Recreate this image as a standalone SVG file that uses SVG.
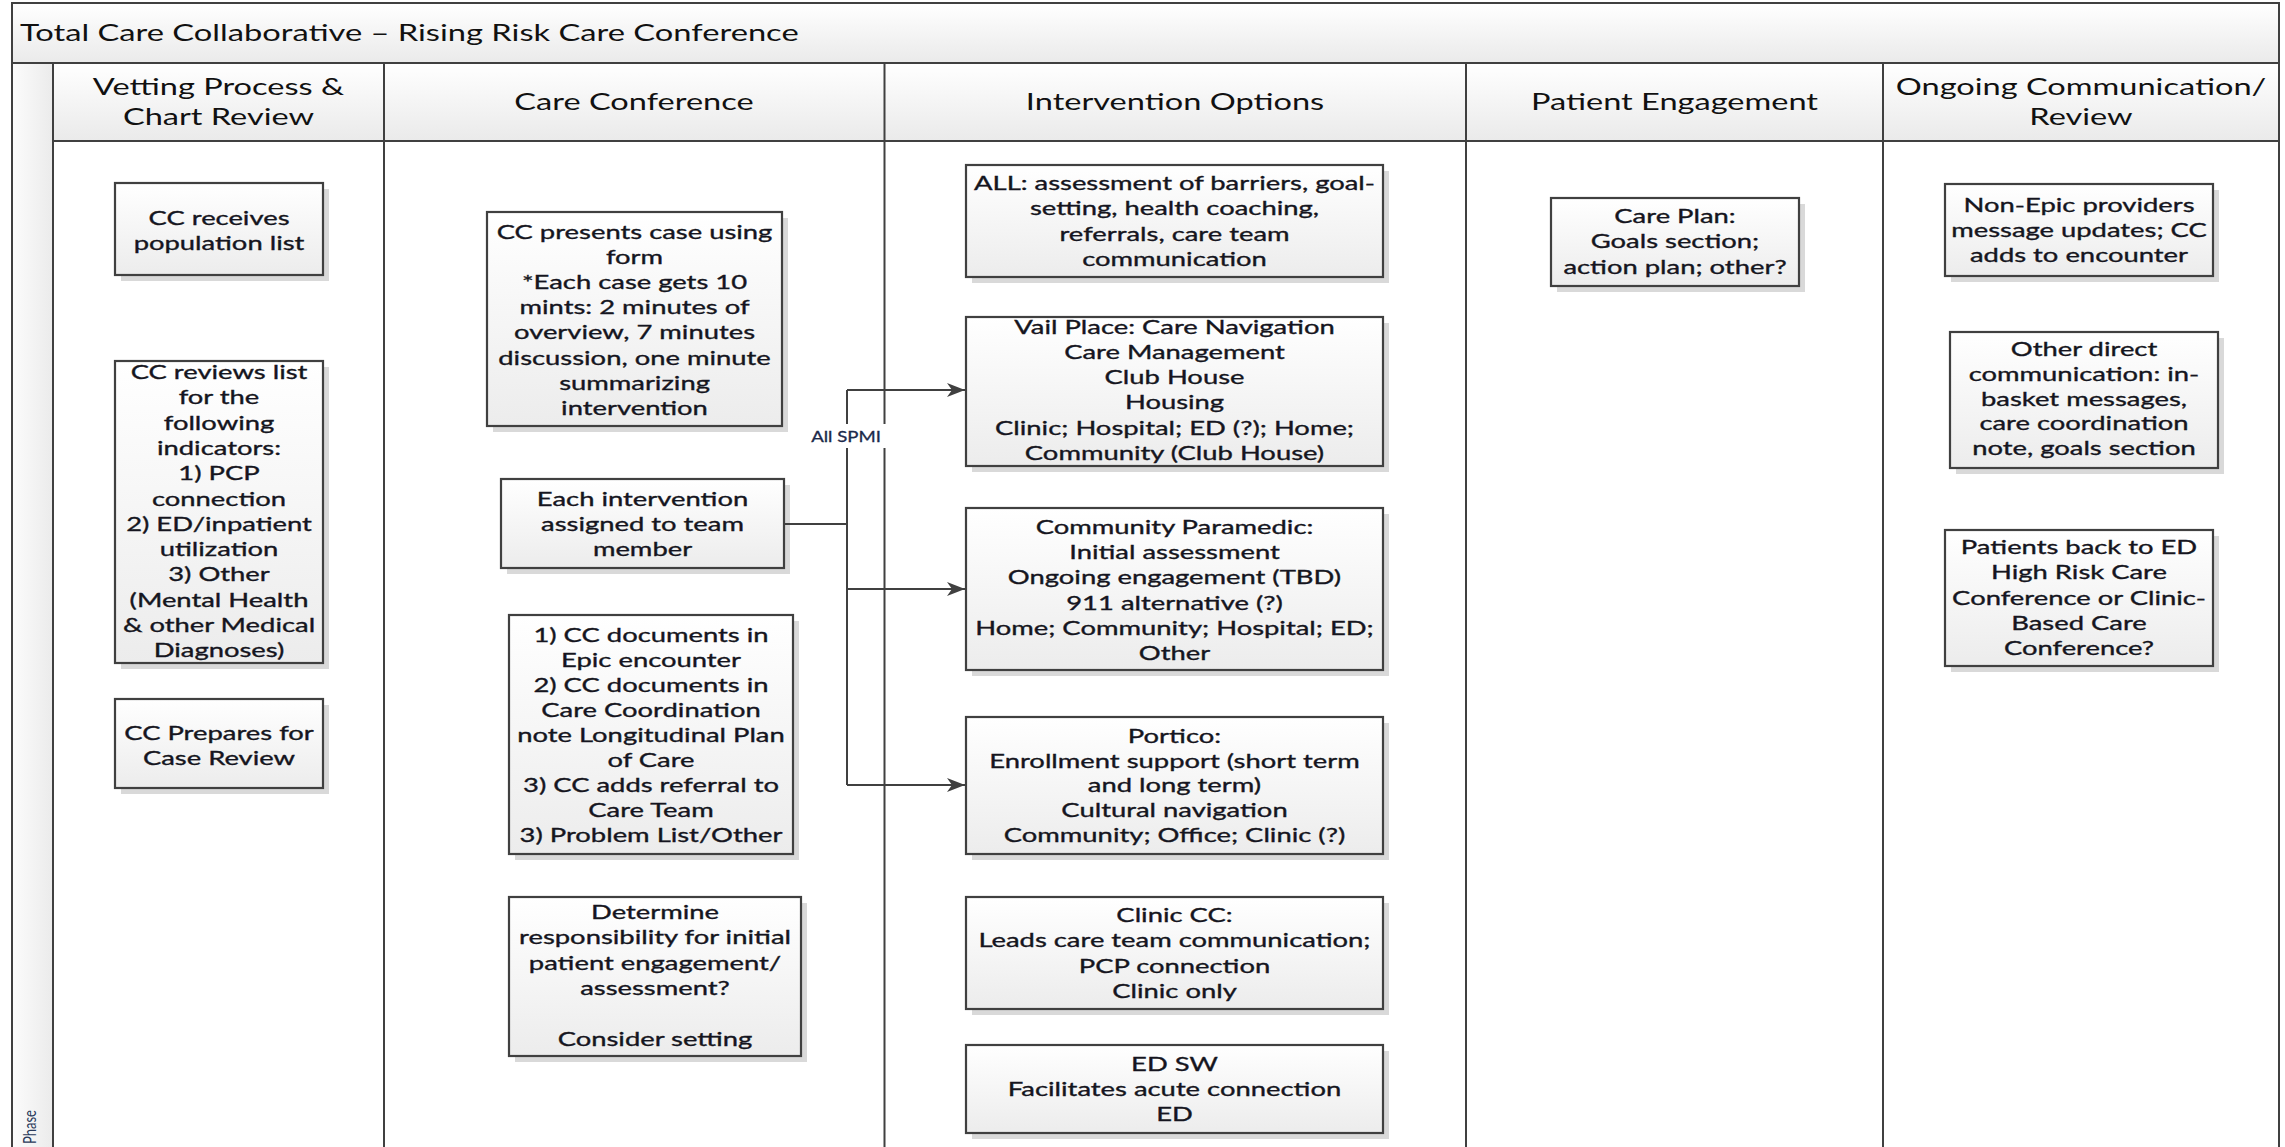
<svg xmlns="http://www.w3.org/2000/svg" width="2285" height="1147" viewBox="0 0 2285 1147">
<defs>
<linearGradient id="gBox" x1="0" y1="0" x2="0" y2="1"><stop offset="0" stop-color="#ffffff"/><stop offset="1" stop-color="#ececec"/></linearGradient>
<linearGradient id="gHead" x1="0" y1="0" x2="0" y2="1"><stop offset="0" stop-color="#ffffff"/><stop offset="1" stop-color="#eaeaea"/></linearGradient>
<linearGradient id="gPhase" x1="0" y1="0" x2="1" y2="0"><stop offset="0" stop-color="#fcfcfc"/><stop offset="1" stop-color="#ebebeb"/></linearGradient>
<marker id="arr" markerUnits="userSpaceOnUse" markerWidth="20" markerHeight="14" refX="18" refY="7" orient="auto"><path d="M0,0 L18,7 L0,14 L5,7 z" fill="#404040"/></marker>
</defs>
<style>
.lane{fill:none;stroke:#404040;stroke-width:2}
.box{fill:url(#gBox);stroke:#404040;stroke-width:2.2}
.sh{fill:#d9d9d9}
.t{font-family:Lato,"Liberation Sans",sans-serif;font-size:20px;fill:#151520;stroke:#151520;stroke-width:0.35;text-anchor:middle}
.h{font-family:Lato,"Liberation Sans",sans-serif;font-size:23.5px;fill:#111;text-anchor:middle}
.ttl{font-family:Lato,"Liberation Sans",sans-serif;font-size:23px;fill:#111}
.lbl{font-family:Lato,"Liberation Sans",sans-serif;font-size:15px;fill:#1c2a4a;stroke:#1c2a4a;stroke-width:0.3;text-anchor:middle}
.ph{font-family:Lato,"Liberation Sans",sans-serif;font-size:13px;fill:#2a3a5a}
.con{fill:none;stroke:#404040;stroke-width:2}
</style>
<rect width="2285" height="1147" fill="#ffffff"/>
<g id="lanes">
<rect x="12" y="3" width="2267" height="60" fill="url(#gHead)"/>
<rect x="12" y="63" width="41" height="1090" fill="url(#gPhase)"/>
<rect x="53" y="63" width="2226" height="78" fill="url(#gHead)"/>
<path class="lane" d="M12,1150 V3 H2279 V1150 M12,63 H2279 M53,63 V1150 M53,141 H2279 M384,63 V1150 M884.5,63 V1150 M1466,63 V1150 M1883,63 V1150"/>
<text class="ttl" transform="translate(20,0) scale(1.42,1)" x="0" y="41">Total Care Collaborative – Rising Risk Care Conference</text>
<text class="h" transform="translate(218.5,0) scale(1.385,1)"><tspan x="0" y="95">Vetting Process &amp;</tspan><tspan x="0" y="125">Chart Review</tspan></text>
<text class="h" transform="translate(634,0) scale(1.385,1)" x="0" y="110">Care Conference</text>
<text class="h" transform="translate(1175,0) scale(1.385,1)" x="0" y="110">Intervention Options</text>
<text class="h" transform="translate(1674.5,0) scale(1.385,1)" x="0" y="110">Patient Engagement</text>
<text class="h" transform="translate(2081,0) scale(1.385,1)"><tspan x="0" y="95">Ongoing Communication/</tspan><tspan x="0" y="125">Review</tspan></text>
<text class="ph" transform="translate(36,1144) scale(1.37,1) rotate(-90)" x="0" y="0">Phase</text>
</g>
<g id="n1"><rect class="sh" x="121" y="189" width="208" height="92"/><rect class="box" x="115" y="183" width="208" height="92"/>
<text class="t" transform="translate(219,0) scale(1.37,1)"><tspan x="0" y="225">CC receives</tspan><tspan x="0" y="250">population list</tspan></text></g>
<g id="n2"><rect class="sh" x="121" y="367" width="208" height="302"/><rect class="box" x="115" y="361" width="208" height="302"/>
<text class="t" transform="translate(219,0) scale(1.37,1)"><tspan x="0" y="379">CC reviews list</tspan><tspan x="0" y="404">for the</tspan><tspan x="0" y="430">following</tspan><tspan x="0" y="455">indicators:</tspan><tspan x="0" y="480">1) PCP</tspan><tspan x="0" y="506">connection</tspan><tspan x="0" y="531">2) ED/inpatient</tspan><tspan x="0" y="556">utilization</tspan><tspan x="0" y="581">3) Other</tspan><tspan x="0" y="607">(Mental Health</tspan><tspan x="0" y="632">&amp; other Medical</tspan><tspan x="0" y="657">Diagnoses)</tspan></text></g>
<g id="n3"><rect class="sh" x="121" y="705" width="208" height="89"/><rect class="box" x="115" y="699" width="208" height="89"/>
<text class="t" transform="translate(219,0) scale(1.37,1)"><tspan x="0" y="740">CC Prepares for</tspan><tspan x="0" y="765">Case Review</tspan></text></g>
<g id="n4"><rect class="sh" x="493" y="218" width="295" height="214"/><rect class="box" x="487" y="212" width="295" height="214"/>
<text class="t" transform="translate(634.5,0) scale(1.37,1)"><tspan x="0" y="239">CC presents case using</tspan><tspan x="0" y="264">form</tspan><tspan x="0" y="289">*Each case gets 10</tspan><tspan x="0" y="314">mints: 2 minutes of</tspan><tspan x="0" y="339">overview, 7 minutes</tspan><tspan x="0" y="365">discussion, one minute</tspan><tspan x="0" y="390">summarizing</tspan><tspan x="0" y="415">intervention</tspan></text></g>
<g id="n5"><rect class="sh" x="507" y="485" width="283" height="89"/><rect class="box" x="501" y="479" width="283" height="89"/>
<text class="t" transform="translate(642.5,0) scale(1.37,1)"><tspan x="0" y="506">Each intervention</tspan><tspan x="0" y="531">assigned to team</tspan><tspan x="0" y="556">member</tspan></text></g>
<g id="n6"><rect class="sh" x="515" y="621" width="284" height="239"/><rect class="box" x="509" y="615" width="284" height="239"/>
<text class="t" transform="translate(651,0) scale(1.37,1)"><tspan x="0" y="642">1) CC documents in</tspan><tspan x="0" y="667">Epic encounter</tspan><tspan x="0" y="692">2) CC documents in</tspan><tspan x="0" y="717">Care Coordination</tspan><tspan x="0" y="742">note Longitudinal Plan</tspan><tspan x="0" y="767">of Care</tspan><tspan x="0" y="792">3) CC adds referral to</tspan><tspan x="0" y="817">Care Team</tspan><tspan x="0" y="842">3) Problem List/Other</tspan></text></g>
<g id="n7"><rect class="sh" x="515" y="903" width="292" height="159"/><rect class="box" x="509" y="897" width="292" height="159"/>
<text class="t" transform="translate(655,0) scale(1.37,1)"><tspan x="0" y="919">Determine</tspan><tspan x="0" y="944">responsibility for initial</tspan><tspan x="0" y="970">patient engagement/</tspan><tspan x="0" y="995">assessment?</tspan><tspan x="0" y="1046">Consider setting</tspan></text></g>
<g id="n8"><rect class="sh" x="972" y="171" width="417" height="112"/><rect class="box" x="966" y="165" width="417" height="112"/>
<text class="t" transform="translate(1174.5,0) scale(1.37,1)"><tspan x="0" y="190">ALL: assessment of barriers, goal-</tspan><tspan x="0" y="215">setting, health coaching,</tspan><tspan x="0" y="241">referrals, care team</tspan><tspan x="0" y="266">communication</tspan></text></g>
<g id="n9"><rect class="sh" x="972" y="323" width="417" height="149"/><rect class="box" x="966" y="317" width="417" height="149"/>
<text class="t" transform="translate(1174.5,0) scale(1.37,1)"><tspan x="0" y="334">Vail Place: Care Navigation</tspan><tspan x="0" y="359">Care Management</tspan><tspan x="0" y="384">Club House</tspan><tspan x="0" y="409">Housing</tspan><tspan x="0" y="435">Clinic; Hospital; ED (?); Home;</tspan><tspan x="0" y="460">Community (Club House)</tspan></text></g>
<g id="n10"><rect class="sh" x="972" y="514" width="417" height="162"/><rect class="box" x="966" y="508" width="417" height="162"/>
<text class="t" transform="translate(1174.5,0) scale(1.37,1)"><tspan x="0" y="534">Community Paramedic:</tspan><tspan x="0" y="559">Initial assessment</tspan><tspan x="0" y="584">Ongoing engagement (TBD)</tspan><tspan x="0" y="610">911 alternative (?)</tspan><tspan x="0" y="635">Home; Community; Hospital; ED;</tspan><tspan x="0" y="660">Other</tspan></text></g>
<g id="n11"><rect class="sh" x="972" y="723" width="417" height="137"/><rect class="box" x="966" y="717" width="417" height="137"/>
<text class="t" transform="translate(1174.5,0) scale(1.37,1)"><tspan x="0" y="743">Portico:</tspan><tspan x="0" y="768">Enrollment support (short term</tspan><tspan x="0" y="792">and long term)</tspan><tspan x="0" y="817">Cultural navigation</tspan><tspan x="0" y="842">Community; Office; Clinic (?)</tspan></text></g>
<g id="n12"><rect class="sh" x="972" y="903" width="417" height="112"/><rect class="box" x="966" y="897" width="417" height="112"/>
<text class="t" transform="translate(1174.5,0) scale(1.37,1)"><tspan x="0" y="922">Clinic CC:</tspan><tspan x="0" y="947">Leads care team communication;</tspan><tspan x="0" y="973">PCP connection</tspan><tspan x="0" y="998">Clinic only</tspan></text></g>
<g id="n13"><rect class="sh" x="972" y="1051" width="417" height="88"/><rect class="box" x="966" y="1045" width="417" height="88"/>
<text class="t" transform="translate(1174.5,0) scale(1.37,1)"><tspan x="0" y="1071">ED SW</tspan><tspan x="0" y="1096">Facilitates acute connection</tspan><tspan x="0" y="1121">ED</tspan></text></g>
<g id="n14"><rect class="sh" x="1557" y="204" width="248" height="88"/><rect class="box" x="1551" y="198" width="248" height="88"/>
<text class="t" transform="translate(1675,0) scale(1.37,1)"><tspan x="0" y="223">Care Plan:</tspan><tspan x="0" y="248">Goals section;</tspan><tspan x="0" y="274">action plan; other?</tspan></text></g>
<g id="n15"><rect class="sh" x="1951" y="190" width="268" height="92"/><rect class="box" x="1945" y="184" width="268" height="92"/>
<text class="t" transform="translate(2079,0) scale(1.37,1)"><tspan x="0" y="212">Non-Epic providers</tspan><tspan x="0" y="237">message updates; CC</tspan><tspan x="0" y="262">adds to encounter</tspan></text></g>
<g id="n16"><rect class="sh" x="1956" y="338" width="268" height="136"/><rect class="box" x="1950" y="332" width="268" height="136"/>
<text class="t" transform="translate(2084,0) scale(1.37,1)"><tspan x="0" y="356">Other direct</tspan><tspan x="0" y="381">communication: in-</tspan><tspan x="0" y="406">basket messages,</tspan><tspan x="0" y="430">care coordination</tspan><tspan x="0" y="455">note, goals section</tspan></text></g>
<g id="n17"><rect class="sh" x="1951" y="536" width="268" height="136"/><rect class="box" x="1945" y="530" width="268" height="136"/>
<text class="t" transform="translate(2079,0) scale(1.37,1)"><tspan x="0" y="554">Patients back to ED</tspan><tspan x="0" y="579">High Risk Care</tspan><tspan x="0" y="605">Conference or Clinic-</tspan><tspan x="0" y="630">Based Care</tspan><tspan x="0" y="655">Conference?</tspan></text></g>
<g id="connectors">
<path class="con" d="M785,524 H847 M847,390 V785"/>
<path class="con" d="M847,390 H965" marker-end="url(#arr)"/>
<path class="con" d="M847,589 H965" marker-end="url(#arr)"/>
<path class="con" d="M847,785 H965" marker-end="url(#arr)"/>
<rect x="806" y="424" width="84" height="24" fill="#ffffff"/>
<text class="lbl" transform="translate(846,0) scale(1.24,1)" x="0" y="442">All SPMI</text>
</g>
</svg>
